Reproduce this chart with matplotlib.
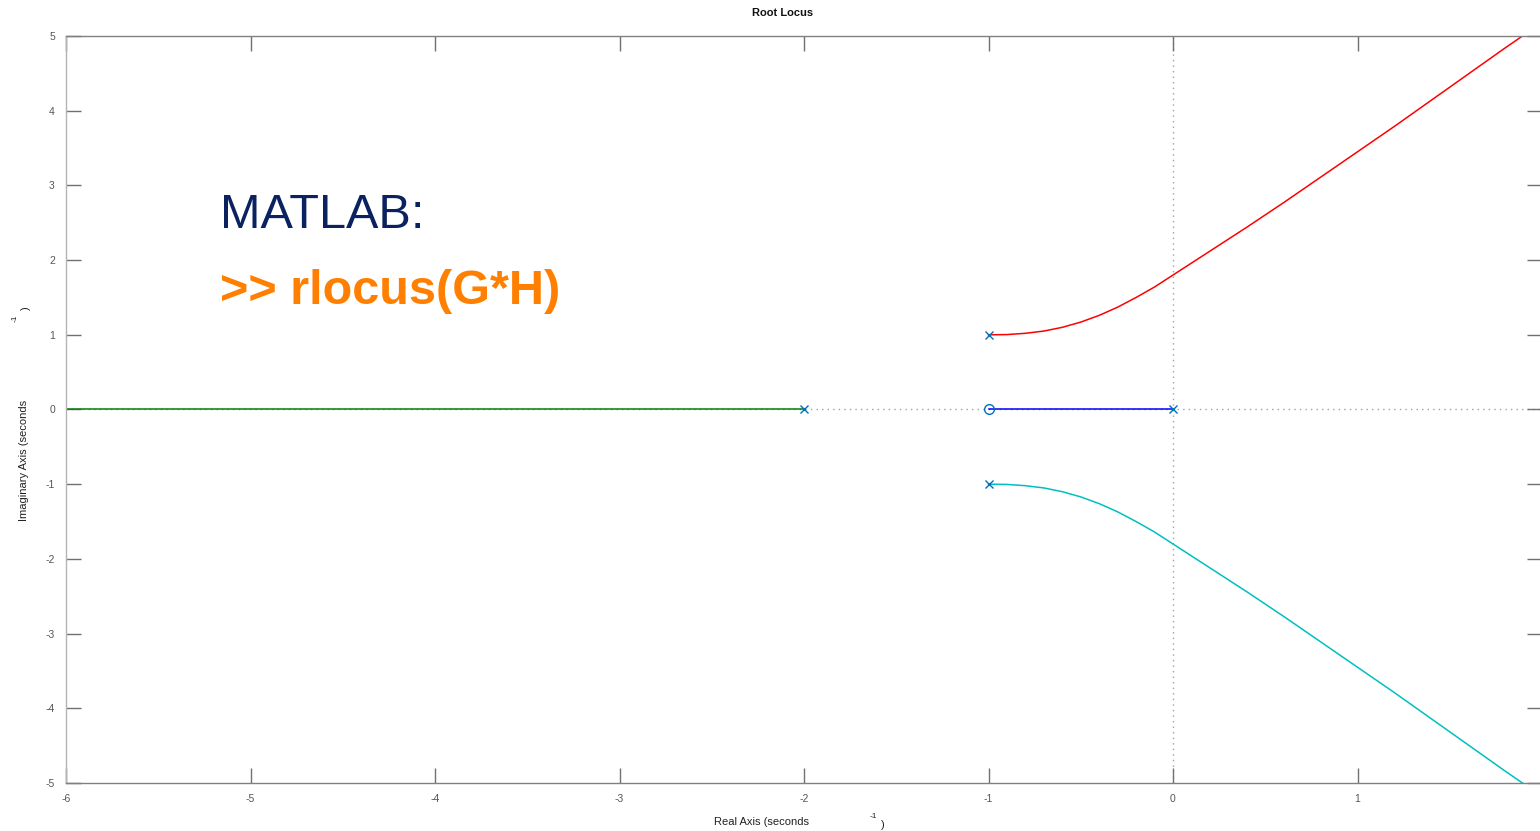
import matplotlib
matplotlib.use("Agg")
import matplotlib.pyplot as plt

plt.rcParams['font.family'] = ['Liberation Sans', 'DejaVu Sans']
plt.rcParams['axes.unicode_minus'] = False

# --- data ---
pole_re = [-2.0, 0.0, -1.0, -1.0]
pole_im = [0.0, 0.0, 1.0, -1.0]
zero_re = [-1.0]
zero_im = [0.0]

red_x = [-1.0, -0.9, -0.8, -0.7, -0.6, -0.5, -0.4, -0.3, -0.2, -0.1, 0.0, 0.1, 0.2, 0.3,
         0.4, 0.6, 0.8, 1.0, 1.2, 1.4, 1.6, 1.8, 1.9, 1.95]
red_y = [1.0, 1.003, 1.02, 1.05, 1.10, 1.17, 1.26, 1.37, 1.50, 1.64, 1.80, 1.96, 2.12, 2.28,
         2.44, 2.77, 3.11, 3.45, 3.79, 4.14, 4.49, 4.84, 5.01, 5.10]
cyan_x = [-1.0, -0.9, -0.8, -0.7, -0.6, -0.5, -0.4, -0.3, -0.2, -0.1, 0.0, 0.1, 0.2, 0.3,
          0.4, 0.6, 0.8, 1.0, 1.2, 1.4, 1.6, 1.8, 1.9, 1.95]
cyan_y = [-1.0, -1.003, -1.02, -1.05, -1.10, -1.17, -1.26, -1.37, -1.50, -1.64, -1.80, -1.96, -2.12, -2.28,
          -2.44, -2.77, -3.11, -3.45, -3.79, -4.14, -4.49, -4.84, -5.01, -5.10]
blue_x = [0.0, -1.0]
blue_y = [0.0, 0.0]
green_x = [-2.0, -6.5]
green_y = [0.0, 0.0]

xticks = [-6, -5, -4, -3, -2, -1, 0, 1, 2]
yticks = [-5, -4, -3, -2, -1, 0, 1, 2, 3, 4, 5]

fig = plt.figure(figsize=(15.4, 8.31), dpi=100)
ax = fig.add_axes([66/1540, 1-783/831, 1476/1540, 747/831])

ax.axhline(0, color='#a0a0a0', lw=1, ls=(0, (1, 3)), zorder=1)
ax.axvline(0, color='#a0a0a0', lw=1, ls=(0, (1, 3)), zorder=1)

ax.plot(green_x, green_y, color='#008000', lw=1.1, zorder=2)
ax.plot(blue_x, blue_y, color='#0000FF', lw=1.1, zorder=2)
ax.plot(red_x, red_y, color='#FF0000', lw=1.1, zorder=2)
ax.plot(cyan_x, cyan_y, color='#00BFBF', lw=1.1, zorder=2)

ax.plot(pole_re, pole_im, ls='none', marker='x', ms=6, mew=1.0, color='#0072BD', zorder=3)
ax.plot(zero_re, zero_im, ls='none', marker='o', ms=7, mew=1.0, mfc='none', mec='#0072BD', zorder=3)

ax.set_xlim(-6, 2)
ax.set_ylim(-5, 5)
ax.set_xticks(xticks)
ax.set_yticks(yticks)
ax.tick_params(direction='in', length=11, width=1, color='#707070', labelcolor='#555555',
               labelsize=7.5, top=True, right=True, pad=8)
for s in ['top', 'bottom', 'right']:
    ax.spines[s].set_color('#808080')
ax.spines['left'].set_color('#b4b4b4')
for s in ax.spines.values():
    s.set_linewidth(1)

fig.text(783/1540, 1-13/831, 'Root Locus', ha='center', va='center', fontsize=8, fontweight='bold', color='#111111')
fig.text(762/1540, 1-822/831, 'Real Axis (seconds', ha='center', va='center', fontsize=8, color='#222222')
fig.text(873/1540, 1-816/831, '-1', ha='center', va='center', fontsize=6, color='#222222')
fig.text(883/1540, 1-825/831, ')', ha='center', va='center', fontsize=8, color='#222222')
fig.text(24/1540, 1-460/831, 'Imaginary Axis (seconds', ha='center', va='center', rotation=90, fontsize=8, color='#222222')
fig.text(15/1540, 1-318/831, '-1', ha='center', va='center', rotation=90, fontsize=6, color='#222222')
fig.text(26/1540, 1-308/831, ')', ha='center', va='center', rotation=90, fontsize=8, color='#222222')

fig.text(220/1540, 1-216/831, 'MATLAB:', ha='left', va='center', fontsize=35, color='#0B2260')
fig.text(220/1540, 1-292/831, '>> rlocus(G*H)', ha='left', va='center', fontsize=35, fontweight='bold', color='#FF7F00')

fig.savefig('out.png', dpi=100)
